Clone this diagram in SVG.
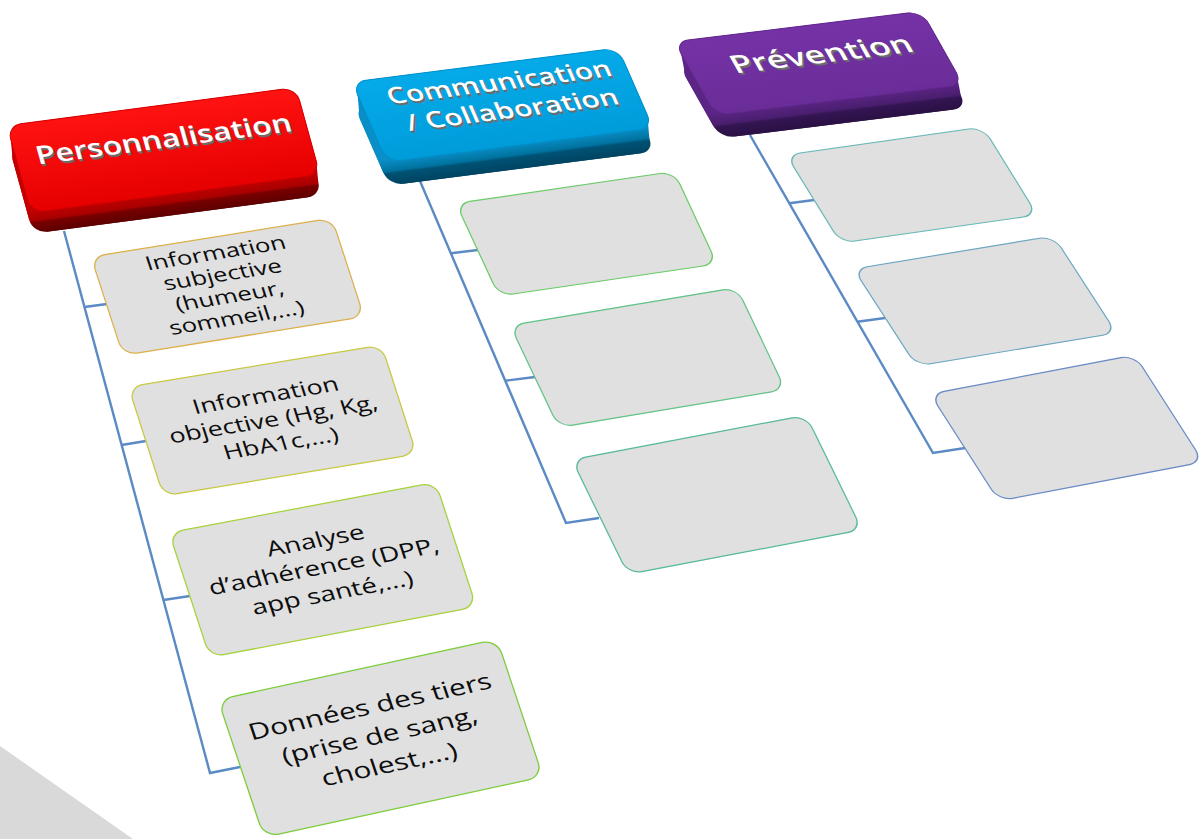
<svg xmlns="http://www.w3.org/2000/svg" width="1203" height="839" viewBox="0 0 1203 839">
<defs>
<style>
.box{fill:#e0e0e0;stroke-width:1.3}
.conn{fill:none;stroke:#5b8ac4;stroke-width:2.4}
.body{font-family:'Open Sans','DejaVu Sans',sans-serif;fill:#0d0d0d;text-anchor:middle}
.hdr{font-family:'Open Sans','DejaVu Sans',sans-serif;font-weight:600;text-anchor:middle}
.hw{fill:#ffffff}
.hs{fill:#6c6c6c}
</style>
<linearGradient id="redTop" x1="0" y1="0" x2="0" y2="1"><stop offset="0" stop-color="#ff1212"/><stop offset="1" stop-color="#e60000"/></linearGradient>
<linearGradient id="redSide" gradientUnits="userSpaceOnUse" x1="0" y1="88" x2="0" y2="111"><stop offset="0" stop-color="#c20000"/><stop offset="0.45" stop-color="#a80000"/><stop offset="0.55" stop-color="#780000"/><stop offset="1" stop-color="#5e0000"/></linearGradient>
<linearGradient id="blueTop" x1="0" y1="0" x2="0" y2="1"><stop offset="0" stop-color="#05aae8"/><stop offset="1" stop-color="#009cda"/></linearGradient>
<linearGradient id="blueSide" gradientUnits="userSpaceOnUse" x1="0" y1="85" x2="0" y2="111"><stop offset="0" stop-color="#0a8ec6"/><stop offset="0.45" stop-color="#00729f"/><stop offset="0.55" stop-color="#005274"/><stop offset="1" stop-color="#004462"/></linearGradient>
<linearGradient id="purpTop" x1="0" y1="0" x2="0" y2="1"><stop offset="0" stop-color="#7532a6"/><stop offset="1" stop-color="#6a2d98"/></linearGradient>
<linearGradient id="purpSide" gradientUnits="userSpaceOnUse" x1="0" y1="82" x2="0" y2="109"><stop offset="0" stop-color="#5a2585"/><stop offset="0.45" stop-color="#4a1e6e"/><stop offset="0.55" stop-color="#331552"/><stop offset="1" stop-color="#2a1044"/></linearGradient>
</defs>
<rect width="1203" height="839" fill="#ffffff"/>
<polygon points="0,746 133,839 0,839" fill="#d9d9d9"/>

<g id="connectors" class="conn">
<path d="M64,231 L210,773 L240,767"/>
<path d="M84.5,307 L107,304"/>
<path d="M121.6,445 L146,441"/>
<path d="M163.4,600 L190,596"/>
<path d="M420,181 L566,523 L599,518"/>
<path d="M450.9,253.3 L478,250"/>
<path d="M505.3,380.7 L535,377"/>
<path d="M750,135 L933,453 L965,448"/>
<path d="M789.3,203.3 L814,200"/>
<path d="M857.4,321.7 L885,318"/>
</g>

<g id="hdr-personnalisation" transform="matrix(0.9931,-0.1306,0.2667,0.9667,7,125.5)">
<polygon points="14,0 277,0 291,14 291,76 287.3,97.2 273.3,111.2 10.3,111.2 -3.7,97.2 -3.7,35.2 0,14" fill="url(#redSide)"/>
<rect x="-3.7" y="21.2" width="291" height="90" rx="14" fill="url(#redSide)"/>
<rect width="291" height="90" rx="14" fill="url(#redTop)" stroke="#d40000" stroke-width="1"/>
<g transform="scale(1,0.8)">
<text class="hdr hs" font-size="32" x="149.5" y="56.8" textLength="257" lengthAdjust="spacingAndGlyphs">Personnalisation</text>
<text class="hdr hw" font-size="32" x="148.5" y="53.75" textLength="257" lengthAdjust="spacingAndGlyphs">Personnalisation</text>
</g>
</g>

<g id="hdr-communication" transform="matrix(0.9925,-0.1269,0.4023,0.9195,352,82)">
<polygon points="14,0 254,0 268,14 268,73 260.1,97.5 246.1,111.5 6.1,111.5 -7.9,97.5 -7.9,38.5 0,14" fill="url(#blueSide)"/>
<rect x="-7.9" y="24.5" width="268" height="87" rx="14" fill="url(#blueSide)"/>
<rect width="268" height="87" rx="14" fill="url(#blueTop)" stroke="#0090cc" stroke-width="1"/>
<g transform="scale(1,0.8)">
<text class="hdr hs" font-size="30" x="141" y="38" textLength="225" lengthAdjust="spacingAndGlyphs">Communication</text>
<text class="hdr hw" font-size="30" x="140" y="35" textLength="225" lengthAdjust="spacingAndGlyphs">Communication</text>
<text class="hdr hs" font-size="30" x="142" y="75.5" textLength="213" lengthAdjust="spacingAndGlyphs">/ Collaboration</text>
<text class="hdr hw" font-size="30" x="141" y="72.5" textLength="213" lengthAdjust="spacingAndGlyphs">/ Collaboration</text>
</g>
</g>

<g id="hdr-prevention" transform="matrix(0.9940,-0.1225,0.4940,0.875,674.25,41.75)">
<polygon points="14,0 235,0 249,14 249,70 241,95.2 227,109.2 6,109.2 -8,95.2 -8,39.2 0,14" fill="url(#purpSide)"/>
<rect x="-8" y="25.2" width="249" height="84" rx="14" fill="url(#purpSide)"/>
<rect width="249" height="84" rx="14" fill="url(#purpTop)" stroke="#62288e" stroke-width="1"/>
<g transform="scale(1,0.8)">
<text class="hdr hs" font-size="34" x="132.5" y="55.5" textLength="181" lengthAdjust="spacingAndGlyphs">Prévention</text>
<text class="hdr hw" font-size="34" x="131.5" y="52.5" textLength="181" lengthAdjust="spacingAndGlyphs">Prévention</text>
</g>
</g>

<g id="box-l1" transform="matrix(0.9877,-0.1578,0.3077,0.9471,91,256.75)">
<rect class="box" width="244" height="104" rx="14" stroke="#dcb04a"/>
<text class="body" font-size="25.5" transform="scale(1,0.78)"><tspan x="121" y="29.5">Information</tspan><tspan x="121" y="58.7">subjective</tspan><tspan x="121" y="88.1">(humeur,</tspan><tspan x="121" y="117.3">sommeil,...)</tspan></text>
</g>

<g id="box-l2" transform="matrix(0.9883,-0.1641,0.3070,0.9561,128.5,387)">
<rect class="box" width="256" height="114" rx="14" stroke="#c8c844"/>
<text class="body" font-size="26.5" transform="scale(1,0.78)"><tspan x="129" y="48.7">Information</tspan><tspan x="129" y="80.9">objective (Hg, Kg,</tspan><tspan x="129" y="113.1">HbA1c,...)</tspan></text>
</g>

<g id="box-l3" transform="matrix(0.9834,-0.1863,0.3092,0.9504,169.25,532.75)">
<rect class="box" width="271" height="131" rx="14" stroke="#a6d23e"/>
<text class="body" font-size="27.5" transform="scale(1,0.78)"><tspan x="137.5" y="54.5">Analyse</tspan><tspan x="137.5" y="89.7">d’adhérence (DPP,</tspan><tspan x="137.5" y="125.1">app santé,...)</tspan></text>
</g>

<g id="box-l4" transform="matrix(0.9789,-0.2123,0.3172,0.9483,218,699.75)">
<rect class="box" width="285" height="145" rx="15" stroke="#7ccc3c"/>
<text class="body" font-size="29.5" transform="scale(1,0.78)"><tspan x="142.5" y="60.3">Données des tiers</tspan><tspan x="142.5" y="99.4">(prise de sang,</tspan><tspan x="142.5" y="138.5">cholest,...)</tspan></text>
</g>

<g id="box-m1" transform="matrix(0.9909,-0.1455,0.4216,0.9069,456,203.5)">
<rect class="box" width="220" height="102" rx="14" stroke="#6ccc6a"/>
</g>
<g id="box-m2" transform="matrix(0.9848,-0.1652,0.4292,0.9027,510.25,325.5)">
<rect class="box" width="230" height="113" rx="14" stroke="#62c486"/>
</g>
<g id="box-m3" transform="matrix(0.9832,-0.1870,0.4409,0.9016,572,459.75)">
<rect class="box" width="238" height="127" rx="14" stroke="#58b89e"/>
</g>

<g id="box-r1" transform="matrix(0.9924,-0.1414,0.5291,0.8544,786.25,155)">
<rect class="box" width="198" height="103" rx="14" stroke="#68b8b6"/>
</g>
<g id="box-r2" transform="matrix(0.9852,-0.1626,0.5431,0.8362,853.5,269)">
<rect class="box" width="203" height="116" rx="14" stroke="#6ca6c2"/>
</g>
<g id="box-r3" transform="matrix(0.9832,-0.1875,0.5394,0.8425,930.25,394)">
<rect class="box" width="208" height="127" rx="14" stroke="#6a8cc6"/>
</g>
</svg>
